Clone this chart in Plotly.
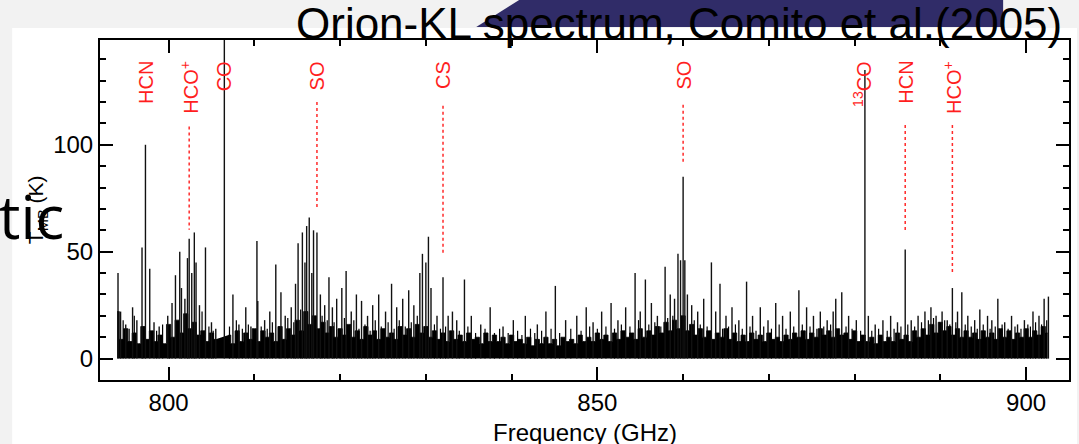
import numpy as np
import plotly.graph_objects as go

# ---- data -------------------------------------------------------------
# Noise floor of the spectrum, one value every 0.5 GHz starting at 794.0 GHz
# (None marks the blanked channels around the CO line)
floor_start = 794.0
floor_step = 0.5
floor_T = [
    22, 9, 14, 8, 12, 7, 15, 9, 13, 8,
    11, 7, 16, 10, 18, 12, 21, 14, 17, 11,
    13, 8, 12, 9, None, None, 11, 7, 13, 8,
    12, 9, 14, 8, 13, 10, 12, 8, 15, 9,
    14, 11, 18, 13, 22, 16, 20, 14, 17, 12,
    15, 10, 14, 11, 16, 10, 13, 9, 15, 11,
    13, 9, 14, 10, 12, 9, 15, 11, 14, 10,
    16, 12, 15, 10, 13, 9, 12, 8, 13, 9,
    11, 8, 12, 9, 10, 7, 12, 8, 11, 8,
    10, 7, 11, 8, 9, 7, 10, 6, 9, 7,
    10, 7, 9, 6, 10, 8, 9, 7, 11, 8,
    10, 8, 12, 9, 11, 8, 12, 9, 13, 10,
    12, 9, 14, 10, 13, 11, 15, 12, 17, 13,
    18, 14, 20, 13, 16, 11, 14, 10, 13, 9,
    12, 10, 14, 9, 12, 8, 11, 8, 12, 9,
    11, 8, 12, 9, 10, 8, 11, 9, 12, 10,
    13, 9, 12, 10, 14, 11, 13, 10, 14, 11,
    12, 9, 13, 8, 11, 8, 10, 7, 11, 8,
    10, 8, 12, 9, 11, 8, 13, 10, 14, 11,
    16, 12, 17, 13, 15, 11, 14, 10, 13, 10,
    12, 9, 13, 10, 12, 9, 14, 10, 13, 9,
    12, 10, 14, 10, 13, 11, 15, 12,
]

# Emission lines: rest frequency (GHz) and peak brightness (K)
line_freq = [
    794.1, 794.4, 795.0, 795.8, 796.3, 796.9, 797.3, 797.8, 798.3, 798.9,
    799.9, 800.4, 800.8, 801.3, 801.5, 801.9, 802.2, 802.4, 802.7, 803.0,
    803.2, 803.6, 804.3, 805.0, 805.5, 806.5, 807.5, 808.2, 809.0, 809.6,
    810.3, 810.4, 811.2, 811.8, 812.5, 813.1, 813.6, 814.3, 814.8, 815.1,
    815.6, 815.9, 816.1, 816.4, 816.7, 816.9, 817.3, 817.7, 818.2, 818.7,
    819.1, 819.6, 820.2, 820.7, 821.3, 821.9, 822.5, 823.2, 823.8, 824.5,
    825.3, 826.0, 826.6, 827.3, 828.0, 828.6, 829.3, 829.6, 830.0, 830.3,
    830.6, 831.3, 832.0, 832.6, 833.1, 833.6, 834.5, 835.3, 836.4, 837.5,
    839.0, 840.2, 841.6, 843.0, 844.0, 845.1, 846.3, 847.6, 848.7, 849.5,
    850.5, 851.6, 852.4, 853.3, 854.4, 855.0, 855.6, 856.3, 857.0, 857.9,
    858.5, 859.0, 859.4, 859.7, 860.0, 860.2, 860.5, 861.0, 861.7, 862.4,
    863.3, 863.8, 864.3, 865.0, 865.7, 866.5, 867.4, 868.1, 869.0, 869.9,
    870.8, 871.6, 872.5, 873.5, 874.4, 875.2, 876.0, 876.8, 877.5, 877.8,
    878.5, 879.3, 880.2, 881.2, 881.6, 882.4, 883.3, 884.2, 885.0, 885.9,
    886.6, 887.4, 888.2, 888.9, 889.5, 890.2, 890.8, 891.4, 892.0, 892.5,
    893.2, 894.0, 894.6, 895.5, 896.0, 896.7, 897.5, 898.3, 899.0, 899.8,
    900.8, 901.5, 902.1, 902.6,
]
line_peak = [
    40, 22, 16, 24, 18, 52, 100, 42, 17, 15,
    20, 26, 39, 50, 33, 28, 47, 56, 40, 59,
    45, 25, 52, 17, 14, 300, 30, 16, 24, 15,
    55, 27, 18, 22, 44, 31, 20, 24, 35, 54,
    59, 45, 62, 66, 40, 60, 59, 30, 25, 38,
    24, 28, 33, 41, 22, 30, 27, 20, 25, 30,
    22, 35, 24, 28, 32, 25, 40, 49, 45, 57,
    33, 20, 38, 20, 22, 18, 37, 20, 16, 24,
    15, 18, 20, 16, 22, 34, 18, 20, 24, 17,
    22, 26, 18, 24, 40, 22, 37, 26, 20, 43,
    30, 28, 49, 46, 85, 46, 30, 25, 22, 28,
    45, 22, 35, 20, 24, 18, 36, 20, 24, 18,
    26, 20, 22, 32, 24, 20, 22, 18, 22, 28,
    31, 20, 18, 135, 20, 16, 18, 20, 17, 51,
    18, 20, 22, 24, 20, 22, 18, 33, 22, 31,
    20, 18, 23, 20, 18, 28, 17, 20, 16, 18,
    22, 20, 28, 29,
]

# Weak lines riding on the noise floor
weak_freq = [
    794.7, 795.4, 796.0, 797.0, 798.6, 799.3, 800.1, 803.9, 804.7, 805.2,
    807.1, 807.9, 808.6, 809.3, 810.0, 810.8, 811.5, 812.1, 812.9, 813.9,
    814.6, 815.4, 817.9, 818.5, 819.3, 820.0, 820.5, 821.0, 821.6, 822.2,
    822.9, 823.5, 824.1, 824.8, 825.6, 826.3, 826.9, 827.6, 828.3, 829.0,
    831.0, 831.7, 832.3, 833.9, 834.9, 835.8, 836.9, 838.0, 838.6, 839.6,
    840.7, 841.2, 842.2, 842.7, 843.5, 844.6, 845.6, 846.9, 848.1, 849.1,
    850.0, 851.0, 852.0, 852.8, 853.8, 854.8, 856.0, 856.7, 857.4, 858.2,
    858.8, 861.3, 862.0, 862.8, 864.6, 865.3, 866.1, 866.9, 867.8, 868.5,
    869.4, 870.3, 871.2, 872.0, 872.9, 873.9, 874.8, 875.6, 876.4, 877.2,
    879.0, 879.7, 880.7, 882.0, 882.8, 883.8, 884.6, 885.4, 886.2, 887.0,
    887.8, 888.6, 889.2, 889.9, 890.5, 891.1, 891.8, 892.9, 893.6, 894.3,
    895.0, 895.8, 896.4, 897.2, 897.9, 898.7, 899.4, 900.2, 900.5, 901.1,
    901.8, 902.4,
]
weak_peak = [
    18, 14, 20, 15, 13, 16, 14, 22, 15, 13,
    15, 18, 14, 16, 13, 15, 14, 17, 15, 19,
    17, 23, 20, 18, 17, 14, 19, 15, 18, 14,
    16, 13, 18, 15, 17, 14, 18, 15, 17, 20,
    16, 14, 15, 13, 15, 12, 14, 12, 14, 12,
    13, 11, 14, 12, 13, 14, 12, 14, 13, 15,
    14, 15, 14, 16, 15, 18, 16, 17, 15, 19,
    20, 18, 16, 15, 14, 15, 16, 14, 15, 13,
    15, 14, 16, 14, 15, 16, 15, 14, 15, 16,
    15, 14, 13, 13, 14, 13, 14, 15, 16, 15,
    17, 18, 19, 17, 18, 16, 17, 16, 15, 14,
    16, 14, 15, 16, 14, 15, 14, 16, 15, 17,
    16, 18,
]

# Identified species and where their names sit
species_text = ["HCN", "HCO<sup>+</sup>", "CO", "SO", "CS", "SO",
                "<sup>13</sup>CO", "HCN", "HCO<sup>+</sup>"]
species_freq = [797.3, 802.4, 806.5, 817.3, 832.0, 860.0, 881.2, 885.9, 891.4]

# Dotted guides from a species name down to its line (K)
guide_freq = [802.4, 817.3, 832.0, 860.0, 885.9, 891.4]
guide_top = [108.5, 120.0, 118.2, 118.7, 109.3, 109.3]
guide_bottom = [60.3, 69.6, 49.4, 90.7, 59.5, 39.3]

# ---- page geometry (pixels) -------------------------------------------
W, H = 1079, 444
L, R, T, B = 100, 1071, 40, 380


def px(xp):
    return (xp - L) / (R - L)


def py(yp):
    return (B - yp) / (B - T)


fig = go.Figure()

# noise floor
floor_freq = floor_start + floor_step * np.arange(len(floor_T))
fig.add_trace(go.Scatter(
    x=floor_freq, y=floor_T, mode="lines", line_shape="hvh",
    line=dict(color="black", width=0.8),
    fill="tozeroy", fillcolor="black", hoverinfo="skip", showlegend=False,
))


def sticks(freqs, peaks):
    xs, ys = [], []
    for f, p in zip(freqs, peaks):
        xs += [f, f, None]
        ys += [0, p, None]
    return xs, ys


wx, wy = sticks(weak_freq, weak_peak)
fig.add_trace(go.Scatter(
    x=wx, y=wy, mode="lines", line=dict(color="black", width=1.2),
    hoverinfo="skip", showlegend=False,
))
sx, sy = sticks(line_freq, line_peak)
fig.add_trace(go.Scatter(
    x=sx, y=sy, mode="lines", line=dict(color="#111111", width=1.4),
    hoverinfo="skip", showlegend=False,
))

# dotted guides
gx, gy = [], []
for f, t0, t1 in zip(guide_freq, guide_top, guide_bottom):
    gx += [f, f, None]
    gy += [t0, t1, None]
fig.add_trace(go.Scatter(
    x=gx, y=gy, mode="lines",
    line=dict(color="#ff2a2a", width=1.5, dash="dot"),
    hoverinfo="skip", showlegend=False,
))

axis_font = dict(family="Liberation Sans, Arial, sans-serif", size=24, color="black")

fig.update_xaxes(
    range=[792, 905], tick0=0, dtick=50, ticks="inside", ticklen=13, tickwidth=2,
    tickcolor="black", showline=True, linewidth=2, linecolor="black",
    mirror="allticks", showgrid=False, zeroline=False, tickfont=axis_font,
    minor=dict(dtick=10, tick0=0, ticks="inside", ticklen=6, tickwidth=1.5,
               tickcolor="black", showgrid=False),
)
fig.update_yaxes(
    range=[-10, 149], tick0=0, dtick=50, ticks="inside", ticklen=13, tickwidth=2,
    tickcolor="black", showline=True, linewidth=2, linecolor="black",
    mirror="allticks", showgrid=False, zeroline=False, tickfont=axis_font,
    minor=dict(dtick=10, tick0=0, ticks="inside", ticklen=6, tickwidth=1.5,
               tickcolor="black", showgrid=False),
)

shapes = [
    # white panel holding the spectrum
    dict(type="rect", xref="paper", yref="paper", x0=px(12), x1=px(W),
         y0=py(H), y1=py(28), fillcolor="white", line=dict(width=0), layer="below"),
    # dark header band
    dict(type="path", xref="paper", yref="paper",
         path=f"M {px(477)} {py(27)} L {px(520)} {py(0)} L {px(1005)} {py(0)} "
              f"L {px(1005)} {py(27)} Z",
         fillcolor="#302c68", line=dict(width=0), layer="below"),
]

annotations = []
label_font = dict(family="Liberation Sans, Arial, sans-serif", size=20, color="#ff1e1e")
for name, f in zip(species_text, species_freq):
    annotations.append(dict(
        x=f, xref="x", y=py(59), yref="paper", text=name, textangle=-90,
        xanchor="center", yanchor="top", showarrow=False, font=label_font,
        xshift=-3 if name.startswith("<sup>") else 0,
    ))

annotations += [
    dict(x=px(585.5), y=py(432.5), xref="paper", yref="paper",
         text="Frequency (GHz)", showarrow=False, xanchor="center", yanchor="middle",
         font=axis_font),
    dict(x=px(37), y=py(210), xref="paper", yref="paper",
         text="T<sub>MB</sub> (K)", textangle=-90, showarrow=False,
         xanchor="center", yanchor="middle",
         font=dict(family="Liberation Sans, Arial, sans-serif", size=21, color="black")),
    dict(x=px(294), y=py(23.5), xref="paper", yref="paper",
         text="Orion-KL spectrum, Comito et al.(2005)", showarrow=False,
         xanchor="left", yanchor="middle",
         font=dict(family="Liberation Sans, Arial, sans-serif", size=44, color="black")),
    dict(x=px(66), y=py(216), xref="paper", yref="paper",
         text="tic", showarrow=False, xanchor="right", yanchor="middle",
         font=dict(family="Open Sans, sans-serif", size=60, color="black")),
]

fig.update_layout(
    width=W, height=H, autosize=False,
    margin=dict(l=L, r=W - R, t=T, b=H - B, pad=0),
    paper_bgcolor="#f2f2f2", plot_bgcolor="white",
    shapes=shapes, annotations=annotations, showlegend=False,
)

fig.write_html("out.html", config={"displayModeBar": False})
